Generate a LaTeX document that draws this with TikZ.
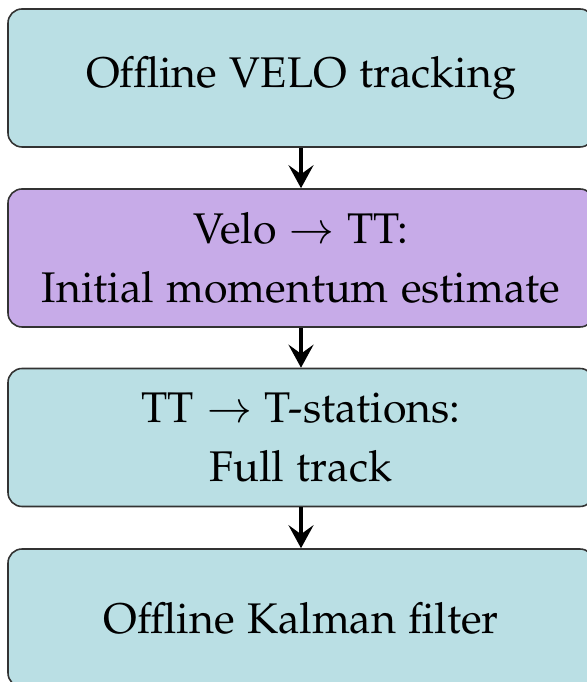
\documentclass[tikz,border=0pt]{standalone}
\usepackage[T1]{fontenc}
\usepackage[sc]{mathpazo}
\usetikzlibrary{arrows.meta}
\definecolor{stageblue}{RGB}{186,223,228}
\definecolor{stagepurple}{RGB}{199,171,232}
\tikzset{
  stage/.style={draw=black!80, line width=0.45pt, rounded corners=4pt,
    minimum width=5.86cm, minimum height=1.38cm, inner sep=0pt,
    align=center, font=\fontsize{12.2}{17}\selectfont},
  flow/.style={-{Stealth[length=2.3mm,width=2.5mm,inset=0.9mm]}, line width=1.2pt}
}
\begin{document}
\begin{tikzpicture}
    \useasboundingbox (0,0) rectangle (5.86,6.82);
    \foreach \n/\y/\c/\t in {
        velo/6.04/stageblue/{Offline VELO tracking},
        momest/4.24/stagepurple/{Velo $\to$ TT:\\Initial momentum estimate},
        fulltrack/2.445/stageblue/{TT $\to$ T-stations:\\Full track},
        kalman/0.64/stageblue/{Offline Kalman filter}}{
      \node[stage, fill=\c] (\n) at (3.01,\y) {\t};
    }
    \foreach \a/\b in {velo/momest, momest/fulltrack, fulltrack/kalman}{
      \draw[flow] (\a.south) -- (\b.north);
    }
  \end{tikzpicture}
\end{document}
